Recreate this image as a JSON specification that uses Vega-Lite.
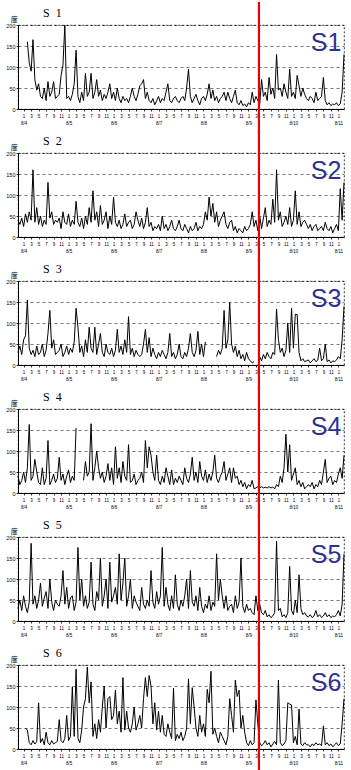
{
"$schema": "https://vega.github.io/schema/vega-lite/v6.json",
"background": "white",
"padding": {"left": 5, "top": 0, "right": 0, "bottom": 0},
"bounds": "flush",
"spacing": {"row": 44},
"config": {
  "view": {"stroke": "#000", "strokeWidth": 0.8, "strokeDash": [2, 2]},
  "axis": {"labelFont": "Liberation Sans", "labelColor": "#000", "domainColor": "#000", "tickColor": "#000"}
},
"data": {"values": [
{"t":-0.5,"S1":null,"S2":40,"S3":30,"S4":40,"S5":30,"S6":null},
{"t":0,"S1":null,"S2":30,"S3":45,"S4":20,"S5":50,"S6":null},
{"t":0.5,"S1":null,"S2":45,"S3":25,"S4":30,"S5":25,"S6":null},
{"t":1,"S1":null,"S2":25,"S3":60,"S4":50,"S5":60,"S6":null},
{"t":1.5,"S1":null,"S2":55,"S3":70,"S4":25,"S5":35,"S6":50},
{"t":2,"S1":160,"S2":35,"S3":155,"S4":60,"S5":20,"S6":45},
{"t":2.5,"S1":110,"S2":60,"S3":40,"S4":163,"S5":45,"S6":15},
{"t":3,"S1":90,"S2":40,"S3":25,"S4":30,"S5":185,"S6":10},
{"t":3.5,"S1":165,"S2":160,"S3":35,"S4":40,"S5":40,"S6":20},
{"t":4,"S1":70,"S2":35,"S3":20,"S4":80,"S5":60,"S6":12},
{"t":4.5,"S1":45,"S2":70,"S3":45,"S4":50,"S5":30,"S6":18},
{"t":5,"S1":60,"S2":30,"S3":25,"S4":25,"S5":50,"S6":110},
{"t":5.5,"S1":30,"S2":50,"S3":30,"S4":20,"S5":90,"S6":15},
{"t":6,"S1":25,"S2":25,"S3":50,"S4":60,"S5":35,"S6":25},
{"t":6.5,"S1":50,"S2":40,"S3":20,"S4":20,"S5":55,"S6":10},
{"t":7,"S1":20,"S2":30,"S3":35,"S4":35,"S5":70,"S6":40},
{"t":7.5,"S1":65,"S2":130,"S3":75,"S4":125,"S5":30,"S6":15},
{"t":8,"S1":30,"S2":45,"S3":130,"S4":20,"S5":100,"S6":10},
{"t":8.5,"S1":40,"S2":60,"S3":40,"S4":30,"S5":45,"S6":20},
{"t":9,"S1":65,"S2":30,"S3":60,"S4":45,"S5":25,"S6":12},
{"t":9.5,"S1":25,"S2":40,"S3":25,"S4":25,"S5":50,"S6":15},
{"t":10,"S1":30,"S2":35,"S3":30,"S4":35,"S5":40,"S6":18},
{"t":10.5,"S1":35,"S2":45,"S3":35,"S4":85,"S5":35,"S6":70},
{"t":11,"S1":80,"S2":20,"S3":50,"S4":30,"S5":60,"S6":20},
{"t":11.5,"S1":105,"S2":60,"S3":20,"S4":45,"S5":120,"S6":15},
{"t":12,"S1":200,"S2":35,"S3":30,"S4":20,"S5":40,"S6":25},
{"t":12.5,"S1":25,"S2":30,"S3":45,"S4":40,"S5":80,"S6":80},
{"t":13,"S1":30,"S2":55,"S3":25,"S4":55,"S5":30,"S6":20},
{"t":13.5,"S1":20,"S2":25,"S3":40,"S4":25,"S5":55,"S6":30},
{"t":14,"S1":35,"S2":40,"S3":30,"S4":40,"S5":60,"S6":148},
{"t":14.5,"S1":60,"S2":30,"S3":55,"S4":30,"S5":25,"S6":30},
{"t":15,"S1":140,"S2":85,"S3":135,"S4":155,"S5":45,"S6":190},
{"t":15.5,"S1":30,"S2":35,"S3":90,"S4":null,"S5":175,"S6":25},
{"t":16,"S1":15,"S2":25,"S3":30,"S4":null,"S5":50,"S6":15},
{"t":16.5,"S1":40,"S2":45,"S3":45,"S4":null,"S5":100,"S6":45},
{"t":17,"S1":20,"S2":20,"S3":20,"S4":30,"S5":35,"S6":100},
{"t":17.5,"S1":85,"S2":50,"S3":60,"S4":75,"S5":60,"S6":120},
{"t":18,"S1":30,"S2":30,"S3":30,"S4":40,"S5":30,"S6":195},
{"t":18.5,"S1":40,"S2":70,"S3":90,"S4":50,"S5":45,"S6":110},
{"t":19,"S1":85,"S2":35,"S3":40,"S4":165,"S5":140,"S6":160},
{"t":19.5,"S1":25,"S2":110,"S3":30,"S4":30,"S5":40,"S6":30},
{"t":20,"S1":40,"S2":40,"S3":90,"S4":60,"S5":25,"S6":60},
{"t":20.5,"S1":70,"S2":60,"S3":25,"S4":100,"S5":70,"S6":25},
{"t":21,"S1":30,"S2":25,"S3":50,"S4":60,"S5":50,"S6":70},
{"t":21.5,"S1":45,"S2":75,"S3":75,"S4":35,"S5":150,"S6":40},
{"t":22,"S1":20,"S2":30,"S3":30,"S4":50,"S5":35,"S6":100},
{"t":22.5,"S1":35,"S2":40,"S3":20,"S4":25,"S5":60,"S6":150},
{"t":23,"S1":25,"S2":60,"S3":50,"S4":40,"S5":100,"S6":50},
{"t":23.5,"S1":40,"S2":20,"S3":30,"S4":70,"S5":30,"S6":120},
{"t":24,"S1":60,"S2":50,"S3":25,"S4":30,"S5":140,"S6":125},
{"t":24.5,"S1":25,"S2":30,"S3":40,"S4":60,"S5":45,"S6":70},
{"t":25,"S1":40,"S2":95,"S3":20,"S4":20,"S5":60,"S6":80},
{"t":25.5,"S1":20,"S2":35,"S3":35,"S4":110,"S5":80,"S6":140},
{"t":26,"S1":50,"S2":25,"S3":85,"S4":35,"S5":40,"S6":60},
{"t":26.5,"S1":25,"S2":40,"S3":30,"S4":60,"S5":160,"S6":90},
{"t":27,"S1":15,"S2":20,"S3":45,"S4":25,"S5":50,"S6":40},
{"t":27.5,"S1":30,"S2":30,"S3":25,"S4":75,"S5":90,"S6":170},
{"t":28,"S1":20,"S2":55,"S3":60,"S4":40,"S5":150,"S6":45},
{"t":28.5,"S1":25,"S2":25,"S3":30,"S4":30,"S5":35,"S6":90},
{"t":29,"S1":15,"S2":35,"S3":115,"S4":115,"S5":60,"S6":50},
{"t":29.5,"S1":30,"S2":40,"S3":25,"S4":25,"S5":100,"S6":40},
{"t":30,"S1":50,"S2":20,"S3":40,"S4":30,"S5":30,"S6":60},
{"t":30.5,"S1":30,"S2":30,"S3":20,"S4":45,"S5":60,"S6":100},
{"t":31,"S1":20,"S2":60,"S3":35,"S4":20,"S5":45,"S6":45},
{"t":31.5,"S1":35,"S2":40,"S3":25,"S4":30,"S5":35,"S6":60},
{"t":32,"S1":55,"S2":25,"S3":20,"S4":35,"S5":25,"S6":80},
{"t":32.5,"S1":60,"S2":45,"S3":25,"S4":50,"S5":80,"S6":50},
{"t":33,"S1":70,"S2":20,"S3":50,"S4":25,"S5":40,"S6":120},
{"t":33.5,"S1":25,"S2":35,"S3":85,"S4":125,"S5":30,"S6":170},
{"t":34,"S1":40,"S2":70,"S3":30,"S4":60,"S5":50,"S6":125},
{"t":34.5,"S1":20,"S2":25,"S3":65,"S4":110,"S5":35,"S6":175},
{"t":35,"S1":15,"S2":35,"S3":20,"S4":90,"S5":120,"S6":150},
{"t":35.5,"S1":25,"S2":15,"S3":40,"S4":50,"S5":45,"S6":60},
{"t":36,"S1":10,"S2":25,"S3":25,"S4":30,"S5":30,"S6":110},
{"t":36.5,"S1":20,"S2":20,"S3":15,"S4":90,"S5":70,"S6":45},
{"t":37,"S1":30,"S2":30,"S3":30,"S4":30,"S5":40,"S6":90},
{"t":37.5,"S1":15,"S2":15,"S3":20,"S4":20,"S5":60,"S6":40},
{"t":38,"S1":25,"S2":50,"S3":35,"S4":40,"S5":175,"S6":80},
{"t":38.5,"S1":20,"S2":20,"S3":25,"S4":25,"S5":35,"S6":35},
{"t":39,"S1":40,"S2":30,"S3":15,"S4":60,"S5":80,"S6":30},
{"t":39.5,"S1":60,"S2":15,"S3":30,"S4":40,"S5":40,"S6":60},
{"t":40,"S1":20,"S2":25,"S3":75,"S4":20,"S5":25,"S6":40},
{"t":40.5,"S1":15,"S2":40,"S3":20,"S4":55,"S5":60,"S6":25},
{"t":41,"S1":25,"S2":20,"S3":30,"S4":20,"S5":30,"S6":145},
{"t":41.5,"S1":30,"S2":15,"S3":15,"S4":35,"S5":110,"S6":20},
{"t":42,"S1":20,"S2":25,"S3":25,"S4":25,"S5":40,"S6":35},
{"t":42.5,"S1":15,"S2":40,"S3":50,"S4":40,"S5":25,"S6":25},
{"t":43,"S1":25,"S2":20,"S3":20,"S4":30,"S5":50,"S6":40},
{"t":43.5,"S1":30,"S2":15,"S3":15,"S4":20,"S5":35,"S6":20},
{"t":44,"S1":20,"S2":30,"S3":30,"S4":60,"S5":60,"S6":30},
{"t":44.5,"S1":50,"S2":20,"S3":20,"S4":35,"S5":100,"S6":50},
{"t":45,"S1":95,"S2":10,"S3":40,"S4":25,"S5":30,"S6":167},
{"t":45.5,"S1":30,"S2":25,"S3":75,"S4":45,"S5":120,"S6":60},
{"t":46,"S1":15,"S2":15,"S3":30,"S4":85,"S5":45,"S6":146},
{"t":46.5,"S1":25,"S2":20,"S3":20,"S4":30,"S5":35,"S6":100},
{"t":47,"S1":35,"S2":35,"S3":35,"S4":50,"S5":60,"S6":50},
{"t":47.5,"S1":20,"S2":15,"S3":80,"S4":25,"S5":25,"S6":30},
{"t":48,"S1":10,"S2":25,"S3":25,"S4":75,"S5":80,"S6":80},
{"t":48.5,"S1":25,"S2":20,"S3":50,"S4":40,"S5":35,"S6":40},
{"t":49,"S1":30,"S2":30,"S3":20,"S4":30,"S5":20,"S6":60},
{"t":49.5,"S1":20,"S2":60,"S3":55,"S4":55,"S5":40,"S6":30},
{"t":50,"S1":35,"S2":40,"S3":null,"S4":25,"S5":30,"S6":142},
{"t":50.5,"S1":60,"S2":95,"S3":null,"S4":45,"S5":60,"S6":110},
{"t":51,"S1":25,"S2":50,"S3":null,"S4":30,"S5":25,"S6":185},
{"t":51.5,"S1":45,"S2":80,"S3":null,"S4":50,"S5":45,"S6":35},
{"t":52,"S1":20,"S2":35,"S3":null,"S4":90,"S5":35,"S6":50},
{"t":52.5,"S1":30,"S2":60,"S3":20,"S4":35,"S5":160,"S6":30},
{"t":53,"S1":15,"S2":25,"S3":35,"S4":25,"S5":50,"S6":15},
{"t":53.5,"S1":25,"S2":40,"S3":25,"S4":40,"S5":100,"S6":40},
{"t":54,"S1":30,"S2":50,"S3":40,"S4":50,"S5":60,"S6":30},
{"t":54.5,"S1":40,"S2":60,"S3":130,"S4":75,"S5":30,"S6":20},
{"t":55,"S1":20,"S2":30,"S3":40,"S4":30,"S5":60,"S6":10},
{"t":55.5,"S1":40,"S2":20,"S3":60,"S4":45,"S5":25,"S6":30},
{"t":56,"S1":25,"S2":35,"S3":149,"S4":60,"S5":35,"S6":120},
{"t":56.5,"S1":15,"S2":40,"S3":50,"S4":25,"S5":40,"S6":80},
{"t":57,"S1":30,"S2":15,"S3":30,"S4":60,"S5":20,"S6":40},
{"t":57.5,"S1":45,"S2":25,"S3":45,"S4":35,"S5":60,"S6":164},
{"t":58,"S1":15,"S2":10,"S3":20,"S4":40,"S5":30,"S6":125},
{"t":58.5,"S1":10,"S2":20,"S3":35,"S4":20,"S5":45,"S6":140},
{"t":59,"S1":20,"S2":15,"S3":15,"S4":30,"S5":150,"S6":50},
{"t":59.5,"S1":8,"S2":10,"S3":25,"S4":15,"S5":35,"S6":80},
{"t":60,"S1":12,"S2":25,"S3":10,"S4":25,"S5":20,"S6":40},
{"t":60.5,"S1":5,"S2":15,"S3":30,"S4":10,"S5":40,"S6":15},
{"t":61,"S1":15,"S2":20,"S3":15,"S4":20,"S5":25,"S6":8},
{"t":61.5,"S1":10,"S2":30,"S3":10,"S4":15,"S5":30,"S6":20},
{"t":62,"S1":40,"S2":60,"S3":5,"S4":30,"S5":20,"S6":10},
{"t":62.5,"S1":15,"S2":25,"S3":8,"S4":10,"S5":15,"S6":15},
{"t":63,"S1":30,"S2":40,"S3":null,"S4":12,"S5":60,"S6":117},
{"t":63.5,"S1":20,"S2":15,"S3":null,"S4":15,"S5":25,"S6":60},
{"t":64,"S1":10,"S2":50,"S3":20,"S4":12,"S5":40,"S6":15},
{"t":64.5,"S1":70,"S2":20,"S3":10,"S4":15,"S5":20,"S6":8},
{"t":65,"S1":30,"S2":45,"S3":25,"S4":12,"S5":15,"S6":12},
{"t":65.5,"S1":40,"S2":70,"S3":15,"S4":14,"S5":25,"S6":20},
{"t":66,"S1":20,"S2":25,"S3":30,"S4":12,"S5":10,"S6":10},
{"t":66.5,"S1":75,"S2":40,"S3":20,"S4":15,"S5":15,"S6":15},
{"t":67,"S1":35,"S2":30,"S3":15,"S4":12,"S5":8,"S6":5},
{"t":67.5,"S1":50,"S2":90,"S3":30,"S4":14,"S5":12,"S6":12},
{"t":68,"S1":25,"S2":35,"S3":25,"S4":10,"S5":20,"S6":18},
{"t":68.5,"S1":130,"S2":160,"S3":133,"S4":20,"S5":190,"S6":10},
{"t":69,"S1":45,"S2":40,"S3":60,"S4":15,"S5":25,"S6":164},
{"t":69.5,"S1":50,"S2":60,"S3":30,"S4":40,"S5":30,"S6":15},
{"t":70,"S1":30,"S2":25,"S3":40,"S4":25,"S5":10,"S6":8},
{"t":70.5,"S1":60,"S2":35,"S3":20,"S4":60,"S5":15,"S6":12},
{"t":71,"S1":40,"S2":50,"S3":35,"S4":140,"S5":8,"S6":20},
{"t":71.5,"S1":25,"S2":30,"S3":100,"S4":50,"S5":20,"S6":110},
{"t":72,"S1":95,"S2":70,"S3":30,"S4":115,"S5":130,"S6":107},
{"t":72.5,"S1":30,"S2":25,"S3":135,"S4":30,"S5":25,"S6":105},
{"t":73,"S1":40,"S2":40,"S3":40,"S4":45,"S5":15,"S6":15},
{"t":73.5,"S1":25,"S2":110,"S3":121,"S4":60,"S5":50,"S6":30},
{"t":74,"S1":80,"S2":30,"S3":120,"S4":20,"S5":20,"S6":10},
{"t":74.5,"S1":55,"S2":60,"S3":30,"S4":30,"S5":110,"S6":95},
{"t":75,"S1":30,"S2":25,"S3":10,"S4":15,"S5":30,"S6":12},
{"t":75.5,"S1":50,"S2":35,"S3":15,"S4":25,"S5":15,"S6":8},
{"t":76,"S1":35,"S2":40,"S3":8,"S4":10,"S5":20,"S6":15},
{"t":76.5,"S1":25,"S2":30,"S3":10,"S4":15,"S5":12,"S6":10},
{"t":77,"S1":20,"S2":20,"S3":12,"S4":20,"S5":10,"S6":10},
{"t":77.5,"S1":30,"S2":30,"S3":5,"S4":15,"S5":15,"S6":5},
{"t":78,"S1":25,"S2":15,"S3":10,"S4":25,"S5":8,"S6":12},
{"t":78.5,"S1":15,"S2":25,"S3":15,"S4":10,"S5":12,"S6":8},
{"t":79,"S1":40,"S2":30,"S3":8,"S4":20,"S5":25,"S6":15},
{"t":79.5,"S1":20,"S2":15,"S3":12,"S4":15,"S5":10,"S6":10},
{"t":80,"S1":25,"S2":20,"S3":40,"S4":30,"S5":15,"S6":12},
{"t":80.5,"S1":30,"S2":25,"S3":10,"S4":20,"S5":8,"S6":8},
{"t":81,"S1":75,"S2":15,"S3":15,"S4":50,"S5":12,"S6":55},
{"t":81.5,"S1":20,"S2":35,"S3":50,"S4":80,"S5":20,"S6":10},
{"t":82,"S1":10,"S2":20,"S3":8,"S4":25,"S5":10,"S6":15},
{"t":82.5,"S1":15,"S2":15,"S3":12,"S4":35,"S5":15,"S6":8},
{"t":83,"S1":8,"S2":25,"S3":5,"S4":40,"S5":8,"S6":12},
{"t":83.5,"S1":12,"S2":10,"S3":10,"S4":20,"S5":12,"S6":5},
{"t":84,"S1":10,"S2":20,"S3":8,"S4":30,"S5":10,"S6":10},
{"t":84.5,"S1":15,"S2":30,"S3":12,"S4":25,"S5":15,"S6":15},
{"t":85,"S1":8,"S2":15,"S3":20,"S4":45,"S5":25,"S6":8},
{"t":85.5,"S1":12,"S2":115,"S3":15,"S4":60,"S5":12,"S6":12},
{"t":86,"S1":40,"S2":40,"S3":60,"S4":35,"S5":40,"S6":60},
{"t":86.5,"S1":130,"S2":130,"S3":140,"S4":90,"S5":160,"S6":120}
]},
"transform": [{"fold": ["S1", "S2", "S3", "S4", "S5", "S6"], "as": ["series", "v"]}],
"facet": {"row": {"field": "series", "type": "nominal", "title": null, "header": {"labels": false, "title": null}}},
"resolve": {"axis": {"x": "independent"}},
"spec": {
  "width": 326,
  "height": 84,
  "layer": [
    {
      "mark": {"type": "line", "color": "#000", "strokeWidth": 1, "invalid": "break-paths-show-domains"},
      "encoding": {
        "x": {"field": "t", "type": "quantitative", "scale": {"domain": [-0.5, 86.5], "nice": false, "zero": false},
          "axis": {"title": null, "grid": false, "tickCount": 100, "values": [1,3,5,7,9,11,13,15,17,19,21,23,25,27,29,31,33,35,37,39,41,43,45,47,49,51,53,55,57,59,61,63,65,67,69,71,73,75,77,79,81,83,85],
            "labelExpr": "datum.value % 12 == 1 ? [(datum.value % 12) + '', '8/' + (4 + floor(datum.value / 12))] : (datum.value % 12) + ''",
            "labelFontSize": 4.5, "labelLineHeight": 7, "tickSize": 2, "labelPadding": 2, "labelOverlap": false, "labelFlush": false, "labelBound": false, "domainWidth": 1, "tickWidth": 0.8}},
        "y": {"field": "v", "type": "quantitative", "scale": {"domain": [0, 200], "nice": false},
          "axis": {"title": null, "tickCount": 10, "values": [0, 50, 100, 150, 200], "grid": true, "gridDash": [3, 3], "gridColor": "#000", "gridWidth": 0.6, "gridOpacity": 0.9,
            "labelFontSize": 5.5, "labelOverlap": false, "tickSize": 2, "labelPadding": 1, "domainWidth": 1, "tickWidth": 0.8}}
      }
    },
    {
      "transform": [{"filter": "datum.t == 0"}],
      "mark": {"type": "rule", "color": "#e8000b", "strokeWidth": 2.2, "clip": false},
      "encoding": {"x": {"datum": 63.8}, "y": {"datum": 255}, "y2": {"datum": -60}}
    },
    {
      "transform": [{"filter": "datum.t == 0"}],
      "mark": {"type": "text", "color": "#2e3192", "fontSize": 25, "font": "Liberation Sans", "align": "center", "baseline": "middle", "clip": false},
      "encoding": {"x": {"datum": 81.7}, "y": {"datum": 157}, "text": {"field": "series"}}
    },
    {
      "transform": [{"filter": "datum.t == 0"}, {"calculate": "'S\u00a0\u00a0' + substring(datum.series, 1)", "as": "lab"}],
      "mark": {"type": "text", "color": "#000", "fontSize": 12, "font": "Liberation Serif", "align": "left", "baseline": "middle", "clip": false},
      "encoding": {"x": {"datum": 6.2}, "y": {"datum": 228}, "text": {"field": "lab"}}
    },
    {
      "transform": [{"filter": "datum.t == 0"}],
      "mark": {"type": "text", "color": "#000", "fontSize": 7, "font": "Noto Sans CJK JP", "align": "center", "baseline": "middle", "clip": false},
      "encoding": {"x": {"datum": -1.5}, "y": {"datum": 212}, "text": {"value": "度"}}
    }
  ]
}
}
